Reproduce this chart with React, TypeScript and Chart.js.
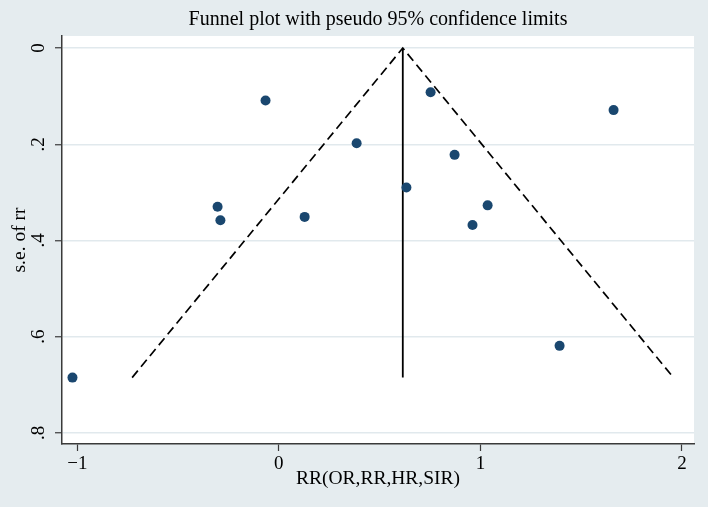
import React, { useEffect, useRef } from 'react';
import { Chart, registerables } from 'chart.js';

Chart.register(...registerables);

// Study estimates (x) and their standard errors (y)
const effectRR = [-1.024, -0.066, 0.753, 1.661, 0.386, 0.872, 0.633, -0.304, -0.29, 0.128, 1.036, 0.961, 1.393];
const seRR = [0.685, 0.109, 0.092, 0.129, 0.198, 0.222, 0.29, 0.33, 0.358, 0.351, 0.327, 0.368, 0.619];

// Pseudo 95% confidence limits (left end, apex, right end)
const limitX = [-0.728, 0.615, 1.958];
const limitY = [0.685, 0, 0.685];

// Pooled estimate line
const pooledX = [0.615, 0.615];
const pooledY = [0, 0.685];

// Axis ticks
const xTickValues = [-1, 0, 1, 2];
const xTickLabels = ['\u22121', '0', '1', '2'];
const yTickValues = [0, 0.2, 0.4, 0.6, 0.8];
const yTickLabels = ['0', '.2', '.4', '.6', '.8'];

const BG = '#e5ecef';
const GRID = '#e1e9ed';
const AXIS = '#3a3a3a';
const NAVY = '#1a476f';
const FONT = '"Liberation Serif", "Times New Roman", serif';

export default function App() {
  const ref = useRef<HTMLCanvasElement>(null);

  useEffect(() => {
    document.body.style.margin = '0';
    if (!ref.current) return;

    const framePlugin = {
      id: 'frame',
      beforeDraw(chart: any) {
        const { ctx, chartArea, width, height } = chart;
        ctx.save();
        ctx.fillStyle = BG;
        ctx.fillRect(0, 0, width, height);
        ctx.fillStyle = '#ffffff';
        ctx.fillRect(chartArea.left, chartArea.top, chartArea.right - chartArea.left, chartArea.bottom - chartArea.top);
        ctx.restore();
      },
      afterDraw(chart: any) {
        const { ctx } = chart;
        const ys = chart.scales.y;
        ctx.save();
        ctx.font = `19px ${FONT}`;
        ctx.fillStyle = '#000';
        ctx.textAlign = 'center';
        ctx.textBaseline = 'middle';
        yTickValues.forEach((v, i) => {
          const py = ys.getPixelForValue(v);
          ctx.save();
          ctx.translate(39, py);
          ctx.rotate(-Math.PI / 2);
          ctx.fillText(yTickLabels[i], 0, 0);
          ctx.restore();
        });
        ctx.restore();
      },
    };

    const chart = new Chart(ref.current, {
      type: 'scatter',
      data: {
        datasets: [
          {
            label: 'Studies',
            data: effectRR.map((x, i) => ({ x, y: seRR[i] })),
            backgroundColor: NAVY,
            borderColor: NAVY,
            borderWidth: 0,
            pointRadius: 5,
            showLine: false,
            order: 0,
          },
          {
            label: 'Pseudo 95% CI',
            data: limitX.map((x, i) => ({ x, y: limitY[i] })),
            showLine: true,
            borderColor: '#000',
            borderWidth: 1.7,
            borderDash: [9, 5],
            pointRadius: 0,
            fill: false,
            order: 1,
          },
          {
            label: 'Pooled',
            data: pooledX.map((x, i) => ({ x, y: pooledY[i] })),
            showLine: true,
            borderColor: '#000',
            borderWidth: 1.8,
            pointRadius: 0,
            fill: false,
            order: 2,
          },
        ],
      },
      options: {
        animation: false,
        responsive: false,
        devicePixelRatio: 1,
        layout: { padding: { top: 0, right: 14, left: 0, bottom: 0 } },
        plugins: {
          legend: { display: false },
          tooltip: { enabled: false },
          title: {
            display: true,
            text: 'Funnel plot with pseudo 95% confidence limits',
            fullSize: false,
            color: '#000',
            font: { family: FONT, size: 20, weight: 'normal' },
            padding: { top: 8, bottom: 4 },
          },
        },
        scales: {
          x: {
            type: 'linear',
            min: -1.076,
            max: 2.06,
            afterBuildTicks: (s: any) => {
              s.ticks = xTickValues.map((v) => ({ value: v }));
            },
            afterFit: (s: any) => {
              s.height = 63;
            },
            ticks: {
              callback: (v: any) => xTickLabels[xTickValues.indexOf(Number(v))],
              color: '#000',
              font: { family: FONT, size: 19 },
              padding: 2,
              maxRotation: 0,
              autoSkip: false,
            },
            grid: { drawOnChartArea: false, tickColor: AXIS, tickLength: 7, tickWidth: 1.2 },
            border: { color: AXIS, width: 1.5 },
            title: {
              display: true,
              text: 'RR(OR,RR,HR,SIR)',
              color: '#000',
              font: { family: FONT, size: 19.5 },
              padding: { top: 0, bottom: 16 },
            },
          },
          y: {
            type: 'linear',
            reverse: true,
            min: -0.025,
            max: 0.823,
            afterBuildTicks: (s: any) => {
              s.ticks = yTickValues.map((v) => ({ value: v }));
            },
            afterFit: (s: any) => {
              s.width = 62;
            },
            ticks: { display: false },
            grid: { color: GRID, lineWidth: 1.5, tickColor: AXIS, tickLength: 7, tickWidth: 1.2 },
            border: { color: AXIS, width: 1.5 },
            title: {
              display: true,
              text: 's.e. of rr',
              color: '#000',
              font: { family: FONT, size: 19.5 },
              padding: { top: 8, bottom: 0 },
            },
          },
        },
      },
      plugins: [framePlugin],
    } as any);

    return () => chart.destroy();
  }, []);

  return (
    <div style={{ width: 708, height: 507 }}>
      <canvas ref={ref} width={708} height={507} />
    </div>
  );
}
